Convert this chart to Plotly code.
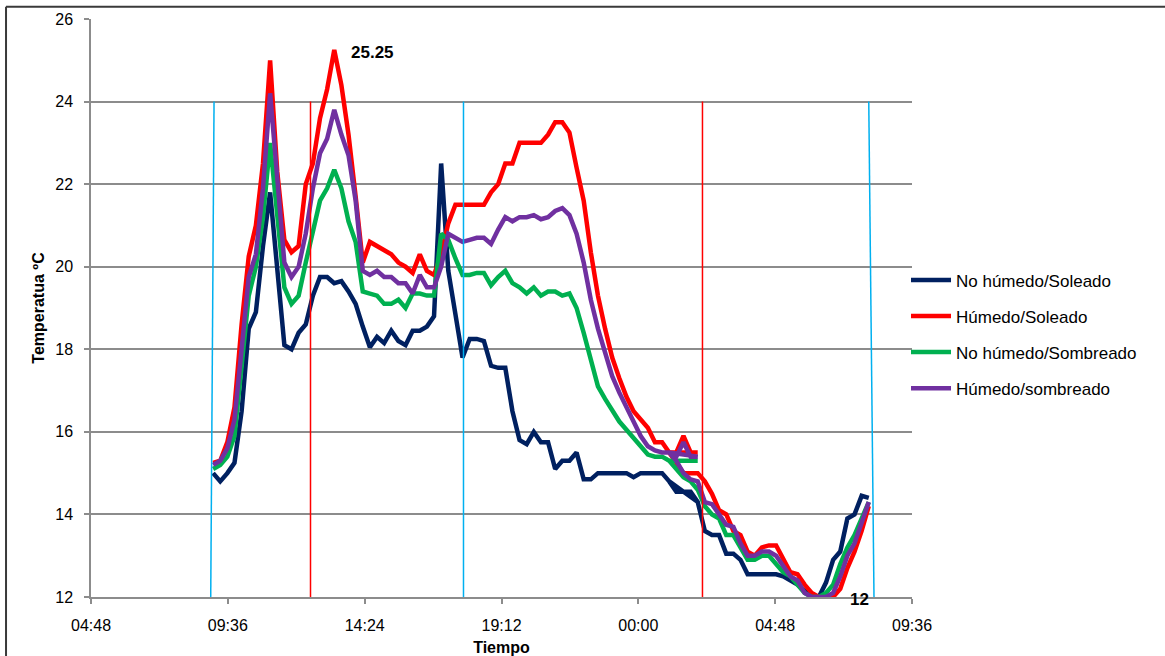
import pandas as pd
import plotly.graph_objects as go

# ---- time stamps (15-minute readings); block A runs 09:05 -> 02:05, block B restarts at 01:05 -> 08:05
times_a = list(pd.date_range("2024-01-01 09:05", "2024-01-02 02:05", freq="15min"))
times_b = list(pd.date_range("2024-01-02 01:05", "2024-01-02 08:05", freq="15min"))
times = times_a + times_b

series_names = ["No húmedo/Soleado", "Húmedo/Soleado", "No húmedo/Sombreado", "Húmedo/sombreado"]

no_humedo_soleado_a = [15.0, 14.8, 15.0, 15.25, 16.5, 18.5, 18.9, 20.5, 21.8, 20.0, 18.1, 18.0, 18.4, 18.6,
                       19.3, 19.75, 19.75, 19.6, 19.65, 19.4, 19.1, 18.55, 18.05, 18.3, 18.15, 18.45, 18.2,
                       18.1, 18.45, 18.45, 18.55, 18.8, 22.5, 19.9, 18.9, 17.8, 18.25, 18.25, 18.2, 17.6,
                       17.55, 17.55, 16.5, 15.8, 15.7, 16.0, 15.75, 15.75, 15.1, 15.3, 15.3, 15.5, 14.85,
                       14.85, 15.0, 15.0, 15.0, 15.0, 15.0, 14.9, 15.0, 15.0, 15.0, 15.0, 14.8, 14.55,
                       14.55, 14.55, 14.3]
no_humedo_soleado_b = [14.8, 14.55, 14.55, 14.55, 14.3, 13.6, 13.5, 13.5, 13.05, 13.05, 12.9, 12.55, 12.55,
                       12.55, 12.55, 12.55, 12.5, 12.4, 12.3, 12.15, 12.0, 12.0, 12.35, 12.9, 13.1, 13.9,
                       14.0, 14.45, 14.4]

humedo_soleado_a = [15.25, 15.3, 15.75, 16.6, 18.6, 20.25, 21.0, 22.5, 25.0, 22.3, 20.65, 20.35, 20.5, 22.0,
                    22.5, 23.6, 24.3, 25.25, 24.4, 23.2, 21.7, 20.1, 20.6, 20.5, 20.4, 20.3, 20.1, 20.0,
                    19.85, 20.3, 19.9, 19.8, 20.3, 21.05, 21.5, 21.5, 21.5, 21.5, 21.5, 21.8, 22.0, 22.5,
                    22.5, 23.0, 23.0, 23.0, 23.0, 23.2, 23.5, 23.5, 23.25, 22.4, 21.6, 20.35, 19.3, 18.5,
                    17.8, 17.3, 16.85, 16.5, 16.3, 16.1, 15.75, 15.75, 15.5, 15.5, 15.9, 15.5, 15.5]
humedo_soleado_b = [15.5, 15.25, 15.0, 15.0, 15.0, 14.8, 14.5, 14.1, 14.0, 13.6, 13.5, 13.1, 13.0, 13.2,
                    13.25, 13.25, 12.95, 12.6, 12.55, 12.3, 12.1, 12.0, 12.0, 12.0, 12.2, 12.7, 13.1, 13.6,
                    14.2]

no_humedo_sombreado_a = [15.1, 15.2, 15.4, 15.9, 17.6, 19.3, 20.0, 21.2, 23.0, 21.3, 19.5, 19.1, 19.3, 20.1,
                         20.9, 21.6, 21.9, 22.35, 21.9, 21.1, 20.6, 19.4, 19.35, 19.3, 19.1, 19.1, 19.2,
                         19.0, 19.35, 19.35, 19.3, 19.3, 20.8, 20.65, 20.2, 19.8, 19.8, 19.85, 19.85, 19.55,
                         19.75, 19.9, 19.6, 19.5, 19.35, 19.5, 19.3, 19.4, 19.4, 19.3, 19.35, 19.0, 18.4,
                         17.75, 17.1, 16.8, 16.5, 16.25, 16.05, 15.85, 15.65, 15.45, 15.4, 15.4, 15.3, 15.3,
                         15.3, 15.3, 15.3]
no_humedo_sombreado_b = [15.3, 15.1, 14.9, 14.8, 14.6, 14.2, 14.0, 13.9, 13.5, 13.5, 13.2, 12.9, 12.9, 13.0,
                         13.0, 12.8, 12.6, 12.5, 12.3, 12.1, 12.0, 12.0, 12.1, 12.3, 12.8, 13.2, 13.5, 13.9,
                         14.3]

humedo_sombreado_a = [15.2, 15.3, 15.6, 16.3, 18.0, 19.75, 20.3, 21.9, 24.2, 22.0, 20.1, 19.75, 20.0, 20.8,
                      21.9, 22.75, 23.1, 23.8, 23.2, 22.7, 21.6, 19.9, 19.8, 19.9, 19.75, 19.75, 19.6, 19.6,
                      19.35, 19.8, 19.5, 19.5, 20.0, 20.8, 20.7, 20.6, 20.65, 20.7, 20.7, 20.55, 20.9, 21.2,
                      21.1, 21.2, 21.2, 21.25, 21.15, 21.2, 21.35, 21.42, 21.25, 20.8, 20.1, 19.2, 18.5,
                      17.9, 17.35, 16.95, 16.6, 16.2, 15.9, 15.65, 15.55, 15.5, 15.5, 15.4, 15.75, 15.4,
                      15.4]
humedo_sombreado_b = [15.5, 15.3, 15.0, 14.85, 14.8, 14.3, 14.25, 14.0, 13.75, 13.7, 13.3, 13.0, 13.0, 13.1,
                      13.1, 13.0, 12.75, 12.5, 12.4, 12.1, 12.0, 12.0, 12.0, 12.1, 12.5, 13.0, 13.3, 13.8,
                      14.3]

series_values = [
    no_humedo_soleado_a + no_humedo_soleado_b,
    humedo_soleado_a + humedo_soleado_b,
    no_humedo_sombreado_a + no_humedo_sombreado_b,
    humedo_sombreado_a + humedo_sombreado_b,
]
series_colors = ["#002060", "#FF0000", "#00B050", "#7030A0"]

# reference (vertical) markers: top/bottom timestamps, spanning 12 -> 24 ºC
blue_top = ["2024-01-01 09:07", "2024-01-01 17:52", "2024-01-02 08:05"]
blue_bottom = ["2024-01-01 09:00", "2024-01-01 17:52", "2024-01-02 08:16"]
red_marks = ["2024-01-01 12:30", "2024-01-02 02:15"]
mark_low, mark_high = 12, 24

x_range = ["2024-01-01 04:48", "2024-01-02 09:36"]
y_ticks = [12, 14, 16, 18, 20, 22, 24, 26]

FONT = "Liberation Sans, Arial, sans-serif"

fig = go.Figure()
for name, vals, col in zip(series_names, series_values, series_colors):
    fig.add_trace(go.Scatter(x=times, y=vals, mode="lines", name=name, legendgroup=name,
                             line=dict(color=col, width=4.5)))

for t0, t1 in zip(blue_top, blue_bottom):
    fig.add_trace(go.Scatter(x=[t0, t1], y=[mark_high, mark_low], mode="lines", showlegend=False,
                             hoverinfo="skip", line=dict(color="#00B0F0", width=1.5)))
for t in red_marks:
    fig.add_trace(go.Scatter(x=[t, t], y=[mark_high, mark_low], mode="lines", showlegend=False,
                             hoverinfo="skip", line=dict(color="#FF0000", width=1.5)))

# data labels (max of Húmedo/Soleado, and the minimum 12)
hs = series_values[1]
imax = hs.index(max(hs))
fig.add_annotation(x=times[imax], y=hs[imax], text="<b>%.2f</b>" % hs[imax], showarrow=False,
                   xanchor="left", yanchor="middle", xshift=15, yshift=-3,
                   font=dict(family=FONT, size=17, color="black"))
fig.add_annotation(x="2024-01-02 07:46", y=min(hs), text="<b>%d</b>" % min(hs), showarrow=False,
                   xanchor="center", yanchor="middle", yshift=-2,
                   font=dict(family=FONT, size=17, color="black"))

# chart-area border (left and top edges)
fig.add_shape(type="line", xref="paper", yref="paper", x0=-0.1035, x1=-0.1035, y0=-0.2, y1=1.0213,
              line=dict(color="#3a3a3a", width=2))
fig.add_shape(type="line", xref="paper", yref="paper", x0=-0.1035, x1=1.4, y0=1.0213, y1=1.0213,
              line=dict(color="#3a3a3a", width=2))

fig.update_layout(
    width=1165, height=656, autosize=False,
    margin=dict(l=91, r=253, t=19, b=59, pad=0),
    paper_bgcolor="white", plot_bgcolor="white",
    font=dict(family=FONT, size=16, color="black"),
    showlegend=True,
    legend=dict(x=0.9927, xanchor="left", y=0.579, yanchor="top", font=dict(family=FONT, size=17, color="black"),
                itemwidth=40, tracegroupgap=11, bgcolor="rgba(0,0,0,0)", borderwidth=0),
    xaxis=dict(type="date", range=x_range, tick0=x_range[0], dtick=4.8 * 3600 * 1000, tickformat="%H:%M",
               showgrid=False, showline=True, linecolor="#8c8c8c", linewidth=1.5,
               ticks="outside", ticklen=5, tickcolor="#8c8c8c", tickwidth=1.5,
               ticklabelstandoff=8, tickfont=dict(size=16), automargin=False,
               title=dict(text="<b>Tiempo</b>", font=dict(size=16), standoff=13)),
    yaxis=dict(range=[12, 26], tickvals=y_ticks, showgrid=True, gridcolor="#8c8c8c", gridwidth=1.5,
               showline=True, linecolor="#8c8c8c", linewidth=1.5, zeroline=False,
               ticks="outside", ticklen=5, tickcolor="#8c8c8c", tickwidth=1.5,
               ticklabelstandoff=8, tickfont=dict(size=16), automargin=False,
               title=dict(text="<b>Temperatua ºC</b>", font=dict(size=16), standoff=7)),
)

fig.write_html("out.html")
